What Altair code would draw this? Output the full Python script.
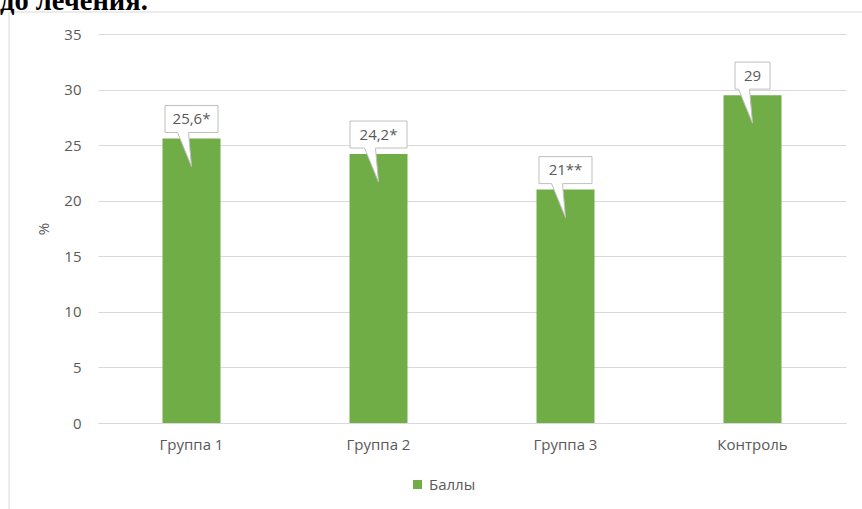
import altair as alt
import pandas as pd

categories = ["Группа 1", "Группа 2", "Группа 3", "Контроль"]
values = [25.6, 24.2, 21.0, 29.5]
labels = ["25,6*", "24,2*", "21**", "29"]
series_name = "Баллы"
y_ticks = [0, 5, 10, 15, 20, 25, 30, 35]
heading = "до лечения."

df = pd.DataFrame({"cat": categories, "val": values, "label": labels, "series": series_name})

# callout shapes (styling): box + pointer, in px (size=4 -> 1 unit = 1 px)
box_widths = {"25,6*": 53, "24,2*": 57, "21**": 53, "29": 35}


def callout_path(w):
    h = w / 2.0
    return (f"M{-h},-33 L{h},-33 L{h},-6 L-3,-6 L0,28 L-14,-6 L{-h},-6 Z")


paths = [callout_path(box_widths[l]) for l in labels]

FONT = "Open Sans"
FS = 15
GRAY = "#595959"
GRID = "#d9d9d9"

x_enc = alt.X("cat:N", sort=categories, title=None,
              scale=alt.Scale(paddingInner=0, paddingOuter=0),
              axis=alt.Axis(labelAngle=0, ticks=False, domainColor=GRID, labelColor=GRAY,
                            labelFontSize=FS, labelFont=FONT, labelPadding=14, grid=False))
y_enc = alt.Y("val:Q", title="%", scale=alt.Scale(domain=[0, 35], nice=False),
              axis=alt.Axis(values=y_ticks, domain=False, ticks=False, gridColor=GRID,
                            labelColor=GRAY, labelFontSize=FS, labelFont=FONT, labelPadding=17,
                            titleColor=GRAY, titleFontSize=FS, titleFont=FONT,
                            titleFontWeight="normal", titlePadding=12))

bars = alt.Chart(df).mark_bar(size=58).encode(
    x=x_enc, y=y_enc,
    color=alt.Color("series:N", scale=alt.Scale(range=["#70ad47"]), title=None,
                    legend=alt.Legend(orient="none", legendX=312, legendY=443, direction="horizontal",
                                      symbolType="square", symbolSize=81, symbolStrokeWidth=0,
                                      labelFontSize=FS, labelFont=FONT, labelColor=GRAY,
                                      padding=0, labelOffset=4)),
)

callouts = alt.Chart(df).mark_point(size=4, filled=True, fill="white", stroke="#bfbfbf",
                                    strokeWidth=1, opacity=1).encode(
    x=alt.X("cat:N", sort=categories),
    y=alt.Y("val:Q"),
    shape=alt.Shape("label:N", scale=alt.Scale(domain=labels, range=paths), legend=None),
)

texts = alt.Chart(df).mark_text(dy=-19.5, fontSize=FS, font=FONT, color=GRAY,
                                baseline="middle").encode(
    x=alt.X("cat:N", sort=categories),
    y=alt.Y("val:Q"),
    text="label:N",
)

border = alt.Chart(pd.DataFrame({"k": [0]})).mark_rule(color=GRID, strokeWidth=1)
top_line = border.encode(x=alt.value(-89), x2=alt.value(764), y=alt.value(-22))
left_line = border.encode(x=alt.value(-89), y=alt.value(-22), y2=alt.value(476))

head = alt.Chart(pd.DataFrame({"t": [heading]})).mark_text(
    font="Liberation Serif", fontWeight="bold", fontSize=28.5, align="left",
    baseline="alphabetic", color="black").encode(
    x=alt.value(-98), y=alt.value(-24), text="t:N")

chart = alt.layer(top_line, left_line, bars, callouts, texts, head).properties(
    width=748, height=389,
    padding={"left": 98, "top": 34, "right": 16, "bottom": 86},
    autosize="none",
    background="white",
).configure_view(stroke=None)

chart.save("out.html", embed_options={"renderer": "svg", "actions": False})
